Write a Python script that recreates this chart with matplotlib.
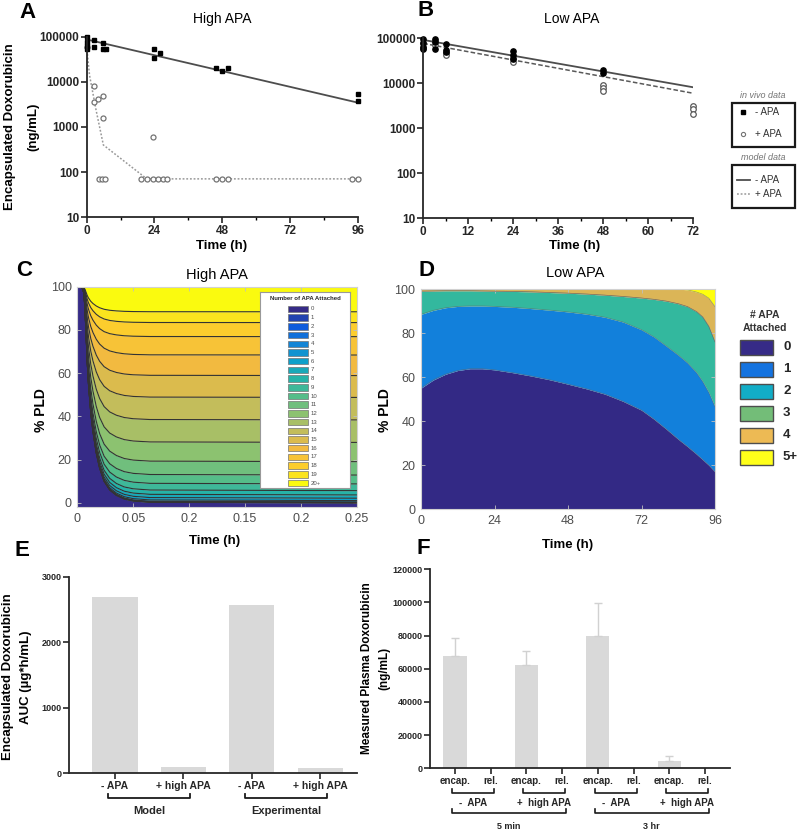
import numpy as np
import matplotlib
matplotlib.use('Agg')
import matplotlib.pyplot as plt
import matplotlib.transforms as mtransforms
from matplotlib.colors import LinearSegmentedColormap
from matplotlib.patches import Rectangle
from matplotlib.ticker import MultipleLocator, NullLocator

plt.rcParams['font.family'] = ['Liberation Sans', 'DejaVu Sans']

W, H = 800, 832

# ---------------- data ----------------
# A: high APA, encapsulated doxorubicin (ng/mL)
a_free_t = [0.2, 0.2, 0.2, 0.2, 2.7, 2.7, 5.7, 5.7, 6.8, 23.9, 23.9, 26.1, 45.8, 47.8, 50.1, 96, 96]
a_free_y = [96600, 77500, 63000, 52500, 84400, 60000, 73600, 52500, 52500,
            54200, 33100, 44300, 19900, 17700, 19900, 5400, 3800]
a_apa_t = [0.2, 2.7, 2.7, 3.9, 5.7, 5.7, 23.6, 4.4, 5.4, 6.6, 19.4, 21.4, 23.4,
           25.3, 27.2, 28.3, 45.8, 47.8, 50.1, 94.1, 96]
a_apa_y = [60000, 7900, 3650, 4100, 4900, 1560, 600, 71, 71, 71, 71, 71, 71,
           71, 71, 71, 71, 71, 71, 71, 71]
a_model_t = [0, 96]
a_model_y = [87000, 3470]
a_model_apa_t = [0, 1, 3.3, 5.9, 21.3, 96]
a_model_apa_y = [60000, 14000, 2400, 400, 71, 71]

# B: low APA
b_free_t = [0, 0, 0, 0, 3, 3, 3, 6, 6, 6, 24, 24, 24, 48, 48]
b_free_y = [95000, 80000, 65000, 57000, 95000, 84000, 57000, 75000, 55000, 50000,
            53000, 42500, 34000, 19800, 17300]
b_apa_t = [0, 0, 3, 3, 6, 6, 24, 24, 48, 48, 48, 72, 72, 72]
b_apa_y = [77000, 60000, 88000, 71000, 46400, 42500, 36000, 30300, 9200, 7700,
           6900, 3140, 2630, 2070]
b_model_t = [0, 72]
b_model_y = [92000, 8150]
b_model_apa_t = [0, 72]
b_model_apa_y = [77000, 6000]

# C: high APA model, % PLD by number of APA attached
c_time = [0, 0.004, 0.006, 0.007, 0.008, 0.009, 0.010, 0.012, 0.014, 0.017,
          0.020, 0.024, 0.029, 0.035, 0.042, 0.050, 0.065, 0.25]
c_remain = [1, 1, 0.97, 0.88, 0.76, 0.64, 0.55, 0.42, 0.33, 0.23,
            0.16, 0.10, 0.06, 0.035, 0.018, 0.009, 0.003, 0]
c_steady = [0.01, 0.04, 0.1, 0.2, 0.5, 1.1, 2.2, 3.7, 5.7, 8.8,
            12.9, 19.1, 28.0, 38.4, 48.8, 58.9, 68.4, 76.9, 83.4, 88.4]
c_labels = [str(i) for i in range(20)] + ['20+']
c_xticklabels = ['0', '0.05', '0.2', '0.15', '0.2', '0.25']

# D: low APA model, cumulative boundaries (%)
d_time = [0, 4, 8, 12, 16, 20, 24, 30, 36, 42, 48, 54, 60, 66, 72, 76, 80, 84, 87, 90, 92, 94, 96]
d_b0 = [55, 58.7, 61.3, 63, 63.8, 63.8, 63.3, 62, 60.5, 58.8, 56.8, 54.7, 52.3, 49,
        45, 41, 36.5, 31.8, 28.5, 25, 22.5, 20, 17]
d_b1 = [88.5, 90.3, 91.5, 92.1, 92.3, 92.3, 92.1, 91.7, 91.1, 90.4, 89.6, 88.6, 87.2, 85,
        81.5, 78.3, 74.2, 70, 66.5, 62, 58, 53, 46.6]
d_b2 = [99.0, 99.1, 99.2, 99.2, 99.2, 99.1, 99.0, 98.9, 98.7, 98.4, 98.1, 97.7, 97.2, 96.6,
        95.9, 95.3, 94.5, 93.3, 92, 89.7, 87.3, 83, 76]
d_b3 = d_b2
d_b4 = [100, 100, 100, 100, 100, 100, 100, 100, 100, 100, 100, 100, 100, 100,
        100, 100, 100, 100, 99.6, 98.6, 97.6, 95.8, 92]
d_labels = ['0', '1', '2', '3', '4', '5+']

# E: AUC
e_labels = ['- APA', '+ high APA', '- APA', '+ high APA']
e_auc = [2694, 100, 2567, 76]
e_groups = ['Model', 'Experimental']

# F: measured plasma doxorubicin
f_labels = ['encap.', 'rel.'] * 4
f_vals = [68000, 300, 62000, 250, 80000, 300, 4600, 200]
f_err = [10500, 0, 9000, 0, 19500, 0, 2800, 0]
f_groups = ['-  APA', '+  high APA', '-  APA', '+  high APA']
f_times = ['5 min', '3 hr']

# ---------------- figure ----------------
fig = plt.figure(figsize=(8, 8.32), dpi=100)


def px_axes(l, t, r, b):
    return fig.add_axes([l / W, 1 - b / H, (r - l) / W, (b - t) / H])


def ftext(x, y, s, **kw):
    kw.setdefault('ha', 'center')
    kw.setdefault('va', 'center')
    fig.text(x / W, 1 - y / H, s, **kw)


def prism(ax, fs):
    for s in ['top', 'right']:
        ax.spines[s].set_visible(False)
    for s in ['left', 'bottom']:
        ax.spines[s].set_linewidth(1.3)
        ax.spines[s].set_color('0.15')
    ax.tick_params(direction='out', length=4, width=1.2, labelsize=fs, pad=1.5, colors='0.15')
    ax.tick_params(which='minor', length=2.5, width=1)
    for lab in ax.get_xticklabels() + ax.get_yticklabels():
        lab.set_fontweight('bold')


def matlab(ax):
    for s in ax.spines.values():
        s.set_color('0.82')
        s.set_linewidth(0.8)
    ax.tick_params(direction='in', length=3, width=0.6, color='0.75', labelsize=9,
                   labelcolor='0.3', pad=4, top=True, right=True)


log_ticks = [10, 100, 1000, 10000, 100000]
log_labels = ['10', '100', '1000', '10000', '100000']

# ---- A ----
axA = px_axes(86.7, 36.7, 357.7, 217.3)
axA.set_yscale('log')
axA.plot(a_model_t, a_model_y, color='0.3', lw=1.3)
axA.plot(a_model_apa_t, a_model_apa_y, color='0.6', lw=1.1, ls=(0, (1.2, 1.2)))
axA.plot(a_apa_t, a_apa_y, 'o', ms=3.6, mfc='white', mec='0.45', mew=0.9, clip_on=False)
axA.plot(a_free_t, a_free_y, 's', ms=3.4, color='black', clip_on=False)
axA.set_xlim(0, 96)
axA.set_ylim(10, 1e5)
axA.set_xticks([0, 24, 48, 72, 96])
axA.xaxis.set_minor_locator(MultipleLocator(12))
axA.set_yticks(log_ticks)
axA.set_yticklabels(log_labels)
axA.yaxis.set_minor_locator(NullLocator())
prism(axA, 8.5)
ftext(222, 19, 'High APA', fontsize=10)
ftext(222, 246, 'Time (h)', fontsize=9.5, weight='bold')
ftext(10, 127, 'Encapsulated Doxorubicin', fontsize=9.5, weight='bold', rotation=90)
ftext(33, 127, '(ng/mL)', fontsize=9.5, weight='bold', rotation=90)

# ---- B ----
axB = px_axes(423.3, 38.3, 693.3, 218.3)
axB.set_yscale('log')
axB.plot(b_model_t, b_model_y, color='0.3', lw=1.3)
axB.plot(b_model_apa_t, b_model_apa_y, color='0.35', lw=1.1, ls=(0, (3, 1.5)))
axB.plot(b_apa_t, b_apa_y, 'o', ms=4, mfc='white', mec='0.35', mew=0.9, clip_on=False)
axB.plot(b_free_t, b_free_y, 'o', ms=3.8, color='black', clip_on=False)
axB.set_xlim(0, 72)
axB.set_ylim(10, 1e5)
axB.set_xticks(range(0, 73, 12))
axB.xaxis.set_minor_locator(MultipleLocator(6))
axB.set_yticks(log_ticks)
axB.set_yticklabels(log_labels)
axB.yaxis.set_minor_locator(NullLocator())
prism(axB, 8.5)
ftext(572, 19, 'Low APA', fontsize=10)
ftext(575, 246, 'Time (h)', fontsize=9.5, weight='bold')

# ---- C ----
parula = LinearSegmentedColormap.from_list('parula_like', [
    (0.0, (0.21, 0.17, 0.53)), (0.1, (0.05, 0.36, 0.87)), (0.2, (0.08, 0.52, 0.84)),
    (0.3, (0.05, 0.63, 0.79)), (0.4, (0.15, 0.70, 0.66)), (0.5, (0.33, 0.74, 0.54)),
    (0.6, (0.55, 0.76, 0.44)), (0.7, (0.76, 0.74, 0.36)), (0.8, (0.95, 0.73, 0.25)),
    (0.9, (0.99, 0.80, 0.18)), (1.0, (0.98, 0.98, 0.06))])
c_colors = [parula(i / 20) for i in range(21)]
ct = np.array(c_time)
cr = np.array(c_remain)
c_bounds = [np.full(len(ct), -2.0)]
for s in c_steady:
    c_bounds.append(s + (100 - s) * cr)
c_bounds.append(np.full(len(ct), 100.0))

axC = px_axes(77.3, 286.7, 357, 507.3)
for i in range(21):
    axC.fill_between(ct, c_bounds[i], c_bounds[i + 1], color=c_colors[i], lw=0)
for b in c_bounds[1:-1]:
    axC.plot(ct, b, color='0.2', lw=0.8)
axC.set_xlim(0, 0.25)
axC.set_ylim(-2, 100)
axC.set_xticks([0, 0.05, 0.1, 0.15, 0.2, 0.25])
axC.set_xticklabels(c_xticklabels)
axC.set_yticks(range(0, 101, 20))
matlab(axC)
ftext(217, 275, 'High APA', fontsize=10.5)
ftext(215, 541, 'Time (h)', fontsize=9.5, weight='bold')
ftext(41, 410, '% PLD', fontsize=10, weight='bold', rotation=90)

# legend inside C
cleg = px_axes(260, 292, 350, 488)
cleg.set_xlim(0, 1)
cleg.set_ylim(20.57, -1.95)
cleg.set_xticks([])
cleg.set_yticks([])
for s in cleg.spines.values():
    s.set_color('0.6')
    s.set_linewidth(0.8)
cleg.barh(range(21), 0.22, left=0.31, height=0.75, color=c_colors, edgecolor='0.45', lw=0.5)
for i, lab in enumerate(c_labels):
    cleg.text(0.56, i, lab, fontsize=4.3, va='center', color='0.3')
cleg.text(0.5, -1.15, 'Number of APA Attached', fontsize=4.3, weight='bold',
          ha='center', va='center', color='0.15')

# ---- D ----
d_chart_colors = [(0.20, 0.16, 0.52), (0.07, 0.50, 0.86), (0.20, 0.72, 0.62),
                  (0.45, 0.74, 0.47), (0.86, 0.71, 0.34), (1.0, 1.0, 0.05)]
d_leg_colors = [(0.21, 0.17, 0.53), (0.08, 0.45, 0.88), (0.07, 0.68, 0.78),
                (0.45, 0.74, 0.47), (0.93, 0.73, 0.33), (1.0, 1.0, 0.1)]
dt = np.array(d_time)
d_bounds = [np.zeros(len(dt)), np.array(d_b0), np.array(d_b1), np.array(d_b2),
            np.array(d_b3), np.array(d_b4), np.full(len(dt), 100.0)]
axD = px_axes(421, 289, 715, 509.3)
for i in range(6):
    axD.fill_between(dt, d_bounds[i], d_bounds[i + 1], color=d_chart_colors[i], lw=0)
for b in d_bounds[1:-1]:
    axD.plot(dt, b, color='0.4', lw=0.5, alpha=0.6)
axD.set_xlim(0, 96)
axD.set_ylim(0, 100)
axD.set_xticks([0, 24, 48, 72, 96])
axD.set_yticks(range(0, 101, 20))
matlab(axD)
ftext(575, 273, 'Low APA', fontsize=10.5)
ftext(568, 545, 'Time (h)', fontsize=9.5, weight='bold')
ftext(385, 410, '% PLD', fontsize=10, weight='bold', rotation=90)

# ---- E ----
axE = px_axes(69, 576.7, 357, 773.3)
axE.bar(range(4), e_auc, width=0.66, color='0.85')
axE.set_xlim(-0.673, 3.54)
axE.set_ylim(0, 3000)
axE.set_yticks([0, 1000, 2000, 3000])
axE.set_xticks(range(4))
axE.set_xticklabels(e_labels)
prism(axE, 6.5)
for lab in axE.get_xticklabels():
    lab.set_fontsize(7.5)
trE = mtransforms.blended_transform_factory(axE.transData, axE.transAxes)
for g, name in enumerate(e_groups):
    x0, x1 = 2 * g - 0.1, 2 * g + 1.1
    axE.plot([x0, x0, x1, x1], [-0.105, -0.126, -0.126, -0.105], color='0.1', lw=1.3,
             transform=trE, clip_on=False)
    axE.text((x0 + x1) / 2, -0.19, name, transform=trE, ha='center', va='center',
             fontsize=8, weight='bold', color='0.15')
ftext(8, 677, 'Encapsulated Doxorubicin', fontsize=9.5, weight='bold', rotation=90)
ftext(26, 677, 'AUC (µg*h/mL)', fontsize=9.5, weight='bold', rotation=90)

# ---- F ----
axF = px_axes(430, 569.3, 730, 768.3)
fx = np.arange(8)
axF.bar(fx, f_vals, width=0.65, color='0.85')
fe = np.array(f_err)
has = fe > 0
axF.errorbar(fx[has], np.array(f_vals)[has], yerr=[np.zeros(has.sum()), fe[has]],
             fmt='none', ecolor='0.82', elinewidth=1, capsize=3)
axF.set_xlim(-0.7, 7.7)
axF.set_ylim(0, 120000)
axF.set_yticks(range(0, 120001, 20000))
axF.set_xticks(fx)
axF.set_xticklabels(f_labels)
prism(axF, 6.5)
for lab in axF.get_xticklabels():
    lab.set_fontsize(7)
trF = mtransforms.blended_transform_factory(axF.transData, axF.transAxes)
for g, name in enumerate(f_groups):
    x0, x1 = 2 * g - 0.09, 2 * g + 1.09
    axF.plot([x0, x0, x1, x1], [-0.104, -0.124, -0.124, -0.104], color='0.1', lw=1.2,
             transform=trF, clip_on=False)
    axF.text((x0 + x1) / 2, -0.174, name, transform=trF, ha='center', va='center',
             fontsize=7, weight='bold', color='0.15')
for k, name in enumerate(f_times):
    x0, x1 = 4 * k - 0.09, 4 * k + 3.1
    axF.plot([x0, x0, x1, x1], [-0.204, -0.224, -0.224, -0.204], color='0.1', lw=1.2,
             transform=trF, clip_on=False)
    axF.text((x0 + x1) / 2, -0.294, name, transform=trF, ha='center', va='center',
             fontsize=6.5, weight='bold', color='0.15')
ftext(367, 668, 'Measured Plasma Doxorubicin', fontsize=8.5, weight='bold', rotation=90)
ftext(384, 668, '(ng/mL)', fontsize=8.5, weight='bold', rotation=90)

# ---- overlay: legends and panel letters ----
ov = fig.add_axes([0, 0, 1, 1])
ov.set_xlim(0, W)
ov.set_ylim(H, 0)
ov.axis('off')
ov.patch.set_alpha(0)

# A/B legend
ov.text(763, 95, 'in vivo data', fontsize=6.5, style='italic', color='0.45', ha='center', va='center')
ov.add_patch(Rectangle((732, 103), 63, 44, fill=False, lw=1.6, ec='0.1'))
ov.plot([743], [112], 's', ms=2.8, color='black')
ov.text(755, 112, '- APA', fontsize=7, color='0.2', va='center')
ov.plot([743], [134], 'o', ms=3, mfc='white', mec='0.45', mew=0.8)
ov.text(755, 134, '+ APA', fontsize=7, color='0.2', va='center')
ov.text(763, 157, 'model data', fontsize=6.5, style='italic', color='0.45', ha='center', va='center')
ov.add_patch(Rectangle((732, 165), 63, 43, fill=False, lw=1.6, ec='0.1'))
ov.plot([737, 750], [180, 180], color='0.3', lw=1.3)
ov.text(755, 180, '- APA', fontsize=7, color='0.2', va='center')
ov.plot([737, 750], [194, 194], color='0.6', lw=1.1, ls=(0, (1.2, 1.2)))
ov.text(755, 194, '+ APA', fontsize=7, color='0.2', va='center')

# D legend
ov.text(765, 315, '# APA', fontsize=7.5, weight='bold', color='0.2', ha='center', va='center')
ov.text(765, 328, 'Attached', fontsize=7.5, weight='bold', color='0.2', ha='center', va='center')
for i, lab in enumerate(d_labels):
    yc = 347.5 + 21.9 * i
    ov.add_patch(Rectangle((740, yc - 7.5), 33, 15, fc=d_leg_colors[i], ec='0.3', lw=1))
    ov.text(783, yc, lab, fontsize=9.5, weight='bold', color='0.15', va='center')

for letter, x, y in [('A', 28, 12), ('B', 426, 10), ('C', 24, 271),
                     ('D', 426, 270), ('E', 22, 550), ('F', 423, 549)]:
    ov.text(x, y, letter, fontsize=16, weight='bold', ha='center', va='center')

fig.savefig('out.png', dpi=100)
